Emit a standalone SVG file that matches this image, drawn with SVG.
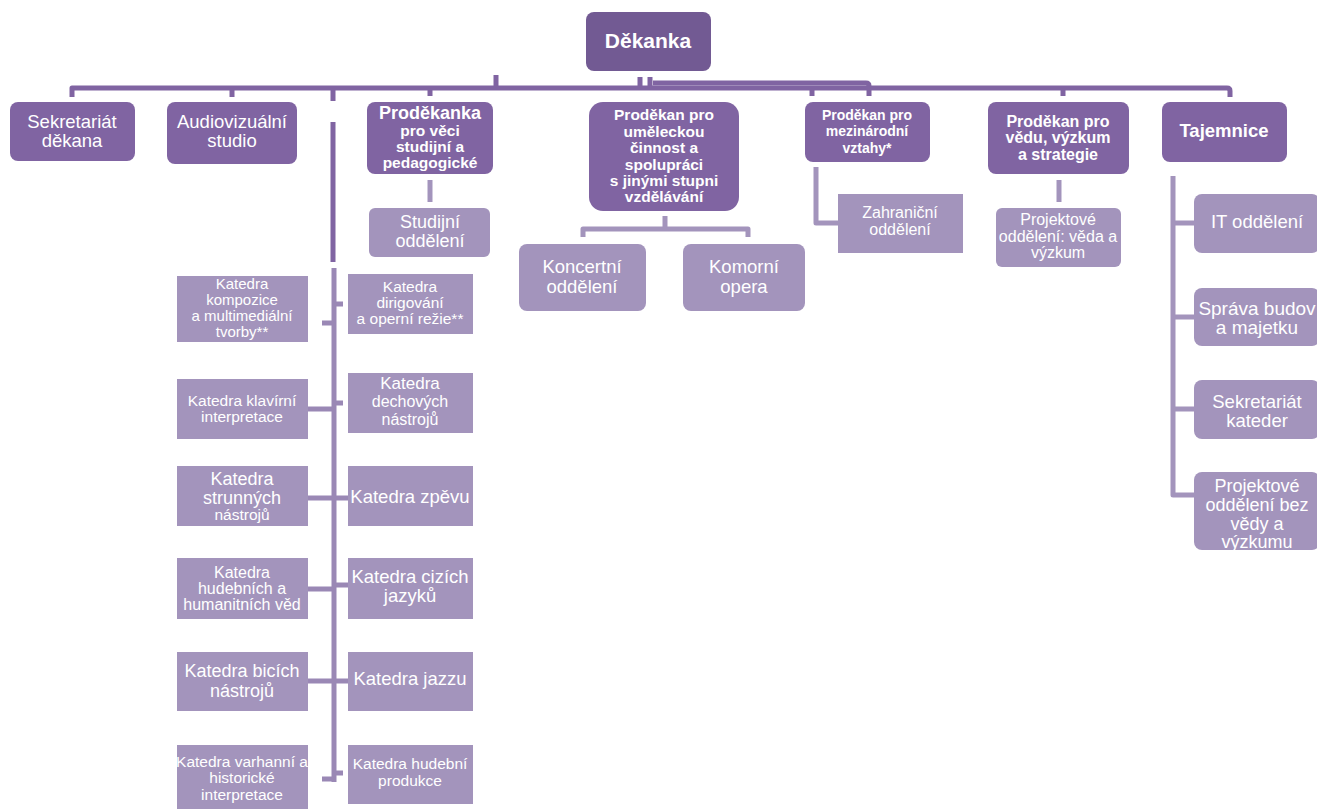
<svg xmlns="http://www.w3.org/2000/svg" width="1317" height="809" viewBox="0 0 1317 809">
<style>
.top{fill:#725A93}
.mid{fill:#8064A2}
.lt{fill:#A394BC}
text{font-family:"Liberation Sans",Arial,sans-serif;fill:#FFFFFF;text-anchor:middle}
.b{font-weight:bold}
.c1{fill:none;stroke:#8064A2;stroke-width:5;stroke-linejoin:round}
.c2{fill:none;stroke:#A394BC;stroke-width:5;stroke-linejoin:round}
.c3{fill:none;stroke:#9A88B5;stroke-width:5}
</style>
<rect width="1317" height="809" fill="#FFFFFF"/>
<g id="connectors">
<path class="c1" d="M72,97 V88 H1227 Q1230,88 1230,91 V97"/>
<path class="c1" d="M653,83 H866 Q869,83 869,86 V96"/>
<path class="c1" d="M496,75 V88 M640,77 V88 M650,77 V88"/>
<path class="c1" d="M232,88 V97 M333,88 V101 M430,88 V96 M812,88 V96 M1063,88 V96"/>
<path class="c1" d="M333,122 V262"/>
<path class="c2" d="M430,180 V202"/>
<path class="c2" d="M665,216 V229 M583,237 V229 H748 V237"/>
<path class="c2" d="M816,167 V223 H838"/>
<path class="c2" d="M1059,180 V202"/>
<path class="c2" d="M1173,176 V495 H1194 M1173,223 H1194 M1173,317 H1194 M1173,409 H1194"/>
<path class="c3" d="M334,268 V782"/>
<path class="c3" d="M322,323 H334 M334,304 H343 M308,409 H334 M334,403 H343 M308,498 H348 M308,589 H334 M334,585 H348 M308,681 H348 M322,779 H334 M334,773 H343"/>
</g>
<g id="dekanka"><rect class="top" x="586" y="12" width="125" height="59" rx="8"/><text class="b" x="648" y="48" font-size="21">Děkanka</text></g>
<g id="sekretariat-dekana"><rect class="mid" x="10" y="102" width="125" height="59" rx="8"/><text x="72" y="128" font-size="18.5">Sekretariát</text><text x="72" y="147" font-size="18.5">děkana</text></g>
<g id="audiovizualni-studio"><rect class="mid" x="167" y="102" width="130" height="62" rx="8"/><text x="232" y="128" font-size="18.5">Audiovizuální</text><text x="232" y="147" font-size="18.5">studio</text></g>
<g id="prodekanka"><rect class="mid" x="367" y="102" width="126" height="72" rx="8"/><text class="b" x="430" y="119" font-size="18">Proděkanka</text><text class="b" x="430" y="136" font-size="15.5">pro věci</text><text class="b" x="430" y="152" font-size="15.5">studijní a</text><text class="b" x="430" y="168" font-size="15.5">pedagogické</text></g>
<g id="prodekan-umelecka"><rect class="mid" x="589" y="102" width="150" height="109" rx="14"/><text class="b" x="664" y="120" font-size="15.5">Proděkan pro</text><text class="b" x="664" y="136.5" font-size="15.5">uměleckou</text><text class="b" x="664" y="153" font-size="15.5">činnost a</text><text class="b" x="664" y="169.5" font-size="15.5">spolupráci</text><text class="b" x="664" y="186" font-size="15.5">s jinými stupni</text><text class="b" x="664" y="202" font-size="15.5">vzdělávání</text></g>
<g id="prodekan-mezinarodni"><rect class="mid" x="805" y="102" width="125" height="60" rx="8"/><text class="b" x="867" y="120" font-size="14">Proděkan pro</text><text class="b" x="867" y="136" font-size="14">mezinárodní</text><text class="b" x="867" y="153" font-size="14">vztahy*</text></g>
<g id="prodekan-veda"><rect class="mid" x="988" y="102" width="141" height="72" rx="8"/><text class="b" x="1058" y="127" font-size="16">Proděkan pro</text><text class="b" x="1058" y="143" font-size="16">vědu, výzkum</text><text class="b" x="1058" y="160" font-size="16">a strategie</text></g>
<g id="tajemnice"><rect class="mid" x="1162" y="102" width="125" height="60" rx="8"/><text class="b" x="1224" y="137" font-size="18.5">Tajemnice</text></g>
<g id="studijni-oddeleni"><rect class="lt" x="369" y="208" width="121" height="49" rx="6"/><text x="430" y="228" font-size="18">Studijní</text><text x="430" y="247" font-size="18">oddělení</text></g>
<g id="koncertni-oddeleni"><rect class="lt" x="519" y="244" width="127" height="67" rx="8"/><text x="582" y="273" font-size="18.5">Koncertní</text><text x="582" y="293" font-size="18.5">oddělení</text></g>
<g id="komorni-opera"><rect class="lt" x="683" y="244" width="122" height="67" rx="8"/><text x="744" y="273" font-size="18.5">Komorní</text><text x="744" y="293" font-size="18.5">opera</text></g>
<g id="zahranicni-oddeleni"><rect class="lt" x="838" y="194" width="125" height="59"/><text x="900" y="218" font-size="16">Zahraniční</text><text x="900" y="235" font-size="16">oddělení</text></g>
<g id="projektove-veda"><rect class="lt" x="996" y="208" width="125" height="59" rx="6"/><text x="1058" y="225" font-size="16">Projektové</text><text x="1058" y="242" font-size="16">oddělení: věda a</text><text x="1058" y="258" font-size="16">výzkum</text></g>
<g id="it-oddeleni"><rect class="lt" x="1194" y="194" width="126" height="59" rx="8"/><text x="1257" y="228" font-size="18.5">IT oddělení</text></g>
<g id="sprava-budov"><rect class="lt" x="1194" y="288" width="126" height="58" rx="8"/><text x="1257" y="315" font-size="19">Správa budov</text><text x="1257" y="334" font-size="19">a majetku</text></g>
<g id="sekretariat-kateder"><rect class="lt" x="1194" y="380" width="126" height="59" rx="8"/><text x="1257" y="408" font-size="18.5">Sekretariát</text><text x="1257" y="427" font-size="18.5">kateder</text></g>
<g id="projektove-bez-vedy"><rect class="lt" x="1194" y="472" width="126" height="78" rx="8"/><text x="1257" y="492" font-size="18">Projektové</text><text x="1257" y="511" font-size="18">oddělení bez</text><text x="1257" y="530" font-size="18">vědy a</text><text x="1257" y="548" font-size="18">výzkumu</text></g>
<g id="katedra-kompozice"><rect class="lt" x="177" y="276" width="131" height="66"/><text x="242" y="289" font-size="15">Katedra</text><text x="242" y="305" font-size="15">kompozice</text><text x="242" y="321" font-size="15">a multimediální</text><text x="242" y="337" font-size="15">tvorby**</text></g>
<g id="katedra-klavirni"><rect class="lt" x="177" y="379" width="131" height="60"/><text x="242" y="406" font-size="15.5">Katedra klavírní</text><text x="242" y="422" font-size="15.5">interpretace</text></g>
<g id="katedra-strunnych"><rect class="lt" x="177" y="466" width="131" height="60"/><text x="242" y="485" font-size="18">Katedra</text><text x="242" y="504" font-size="18">strunných</text><text x="242" y="520" font-size="15.5">nástrojů</text></g>
<g id="katedra-hudebnich-ved"><rect class="lt" x="177" y="558" width="131" height="61"/><text x="242" y="578" font-size="16">Katedra</text><text x="242" y="594" font-size="16">hudebních a</text><text x="242" y="610" font-size="16">humanitních věd</text></g>
<g id="katedra-bicich"><rect class="lt" x="177" y="652" width="131" height="59"/><text x="242" y="677" font-size="18">Katedra bicích</text><text x="242" y="697" font-size="18">nástrojů</text></g>
<g id="katedra-varhanni"><rect class="lt" x="177" y="745" width="131" height="64"/><text x="242" y="767" font-size="15.5">Katedra varhanní a</text><text x="242" y="783" font-size="15.5">historické</text><text x="242" y="800" font-size="15.5">interpretace</text></g>
<g id="katedra-dirigovani"><rect class="lt" x="348" y="274" width="125" height="60"/><text x="410" y="292" font-size="15.5">Katedra</text><text x="410" y="308" font-size="15.5">dirigování</text><text x="410" y="324" font-size="15.5">a operní režie**</text></g>
<g id="katedra-dechovych"><rect class="lt" x="348" y="373" width="125" height="60"/><text x="410" y="389" font-size="17">Katedra</text><text x="410" y="407" font-size="16">dechových</text><text x="410" y="425" font-size="16">nástrojů</text></g>
<g id="katedra-zpevu"><rect class="lt" x="348" y="466" width="125" height="60"/><text x="410" y="503" font-size="18.5">Katedra zpěvu</text></g>
<g id="katedra-cizich-jazyku"><rect class="lt" x="348" y="558" width="125" height="61"/><text x="410" y="583" font-size="18.5">Katedra cizích</text><text x="410" y="602" font-size="18.5">jazyků</text></g>
<g id="katedra-jazzu"><rect class="lt" x="348" y="652" width="125" height="59"/><text x="410" y="685" font-size="18.5">Katedra jazzu</text></g>
<g id="katedra-hudebni-produkce"><rect class="lt" x="348" y="745" width="125" height="59"/><text x="410" y="769" font-size="15.5">Katedra hudební</text><text x="410" y="786" font-size="15.5">produkce</text></g>
</svg>
